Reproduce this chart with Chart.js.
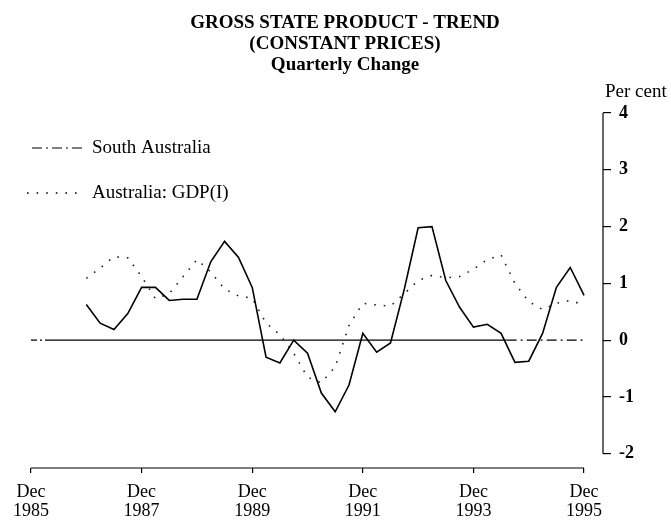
<!DOCTYPE html>
<html>
<head>
<meta charset="utf-8">
<script src="https://cdn.jsdelivr.net/npm/chart.js@4.4.0/dist/chart.umd.min.js"></script>
<style>
  body { margin: 0; background: #fff; }
</style>
</head>
<body>
<canvas id="graficoGSP" width="671" height="520"></canvas>
<script>
// quarter index: 0 = Dec 1985 ... 40 = Dec 1995, series start Dec 1986
const firstQuarter = 4;

const southAustralia = [0.63, 0.30, 0.19, 0.47, 0.93, 0.93, 0.70, 0.72, 0.72, 1.38,
  1.74, 1.46, 0.93, -0.30, -0.40, 0.00, -0.23, -0.93, -1.26, -0.79,
  0.12, -0.21, -0.05, 0.90, 1.98, 2.00, 1.05, 0.58, 0.23, 0.28,
  0.12, -0.39, -0.37, 0.12, 0.93, 1.28, 0.79];

const australiaGDP = [1.09, 1.27, 1.47, 1.45, 1.12, 0.73, 0.82, 1.12, 1.42, 1.20,
  0.90, 0.78, 0.74, 0.30, 0.10, -0.23, -0.65, -0.75, -0.47, 0.26,
  0.65, 0.62, 0.60, 0.82, 1.05, 1.14, 1.10, 1.12, 1.25, 1.42,
  1.50, 1.00, 0.68, 0.54, 0.65, 0.70, 0.62];

const xTickQuarters = [0, 8, 16, 24, 32, 40];
const xTickYears = ["1985", "1987", "1989", "1991", "1993", "1995"];
const xTickMonth = "Dec";
const yTicks = [-2, -1, 0, 1, 2, 3, 4];

const titleLines = ["GROSS STATE PRODUCT - TREND", "(CONSTANT PRICES)", "Quarterly Change"];
const legendLabels = ["South Australia", "Australia: GDP(I)"];
const unitLabel = "Per cent";

const SERIF = '"Liberation Serif", "Times New Roman", serif';

function toPoints(values) {
  return values.map((v, i) => ({ x: firstQuarter + i, y: v }));
}

// titles, legend, axis lines and the zero line
const extras = {
  id: "extras",
  beforeDatasetsDraw(chart) {
    const ctx = chart.ctx;
    const x = chart.scales.x, y = chart.scales.y;
    const y0 = y.getPixelForValue(0);
    ctx.save();
    ctx.strokeStyle = "#000";
    ctx.lineWidth = 1.2;
    // zero line
    ctx.setLineDash([6, 3, 2, 3]);
    ctx.beginPath();
    ctx.moveTo(x.getPixelForValue(0), y0);
    ctx.lineTo(x.getPixelForValue(1.3), y0);
    ctx.stroke();
    ctx.setLineDash([]);
    ctx.beginPath();
    ctx.moveTo(x.getPixelForValue(1.3), y0);
    ctx.lineTo(x.getPixelForValue(34.4), y0);
    ctx.stroke();
    ctx.setLineDash([10, 4, 2, 4]);
    ctx.beginPath();
    ctx.moveTo(x.getPixelForValue(34.4), y0);
    ctx.lineTo(x.getPixelForValue(40), y0);
    ctx.stroke();
    ctx.restore();
  },
  afterDraw(chart) {
    const ctx = chart.ctx;
    const x = chart.scales.x, y = chart.scales.y;
    const area = chart.chartArea;
    ctx.save();
    ctx.strokeStyle = "#000";
    ctx.lineWidth = 1.2;
    ctx.setLineDash([]);

    // x axis line from first to last tick
    ctx.beginPath();
    ctx.moveTo(x.getPixelForValue(xTickQuarters[0]), area.bottom);
    ctx.lineTo(x.getPixelForValue(xTickQuarters[xTickQuarters.length - 1]), area.bottom);
    ctx.stroke();

    // y axis line from -2 to 4
    ctx.beginPath();
    ctx.moveTo(area.right, y.getPixelForValue(yTicks[yTicks.length - 1]));
    ctx.lineTo(area.right, y.getPixelForValue(yTicks[0]));
    ctx.stroke();

    // title
    ctx.fillStyle = "#000";
    ctx.textAlign = "center";
    ctx.textBaseline = "middle";
    ctx.font = "bold 19px " + SERIF;
    titleLines.forEach((t, i) => ctx.fillText(t, 345, 23 + i * 21));

    // unit
    ctx.font = "19px " + SERIF;
    ctx.textAlign = "left";
    ctx.fillText(unitLabel, 605, 92);

    // legend
    ctx.fillText(legendLabels[0], 92, 148);
    ctx.fillText(legendLabels[1], 92, 193);
    ctx.lineWidth = 1.2;
    ctx.setLineDash([10, 4, 2, 4]);
    ctx.beginPath();
    ctx.moveTo(32, 148);
    ctx.lineTo(86, 148);
    ctx.stroke();
    ctx.lineWidth = 1.6;
    ctx.setLineDash([1.6, 8]);
    ctx.beginPath();
    ctx.moveTo(27, 193);
    ctx.lineTo(84, 193);
    ctx.stroke();
    ctx.restore();
  }
};

const data = {
  datasets: [
    {
      label: legendLabels[0],
      data: toPoints(southAustralia),
      borderColor: "#000",
      borderWidth: 1.6,
      pointRadius: 0,
      tension: 0
    },
    {
      label: legendLabels[1],
      data: toPoints(australiaGDP),
      borderColor: "#222",
      borderWidth: 1.6,
      borderDash: [1.6, 8],
      pointRadius: 0,
      tension: 0
    }
  ]
};

const config = {
  type: "line",
  data: data,
  options: {
    responsive: false,
    animation: false,
    devicePixelRatio: 1,
    layout: { padding: { left: 31, top: 113, right: 0, bottom: 0 } },
    plugins: {
      legend: { display: false },
      title: { display: false },
      tooltip: { enabled: false }
    },
    scales: {
      x: {
        type: "linear",
        min: 0,
        max: 41.37,
        afterFit: (s) => { s.height = 52; },
        afterBuildTicks: (s) => { s.ticks = xTickQuarters.map(v => ({ value: v })); },
        border: { display: false },
        grid: { drawOnChartArea: false, drawTicks: true, tickLength: 5, color: "#000", lineWidth: 1.2 },
        ticks: {
          autoSkip: false,
          maxRotation: 0,
          padding: 9,
          color: "#000",
          font: { family: SERIF, size: 18, lineHeight: 1.1 },
          callback: (value) => {
            const k = xTickQuarters.indexOf(value);
            return k >= 0 ? [xTickMonth, xTickYears[k]] : "";
          }
        }
      },
      y: {
        position: "right",
        min: -2.25,
        max: 4,
        afterFit: (s) => { s.width = 68; },
        afterBuildTicks: (s) => { s.ticks = yTicks.map(v => ({ value: v })); },
        border: { display: false },
        grid: { drawOnChartArea: false, drawTicks: true, tickLength: 8, color: "#000", lineWidth: 1.2 },
        ticks: {
          padding: 8,
          color: "#000",
          font: { family: SERIF, size: 18, weight: "bold" }
        }
      }
    }
  },
  plugins: [extras]
};

const ctx = document.getElementById("graficoGSP").getContext("2d");
new Chart(ctx, config);
</script>
</body>
</html>
